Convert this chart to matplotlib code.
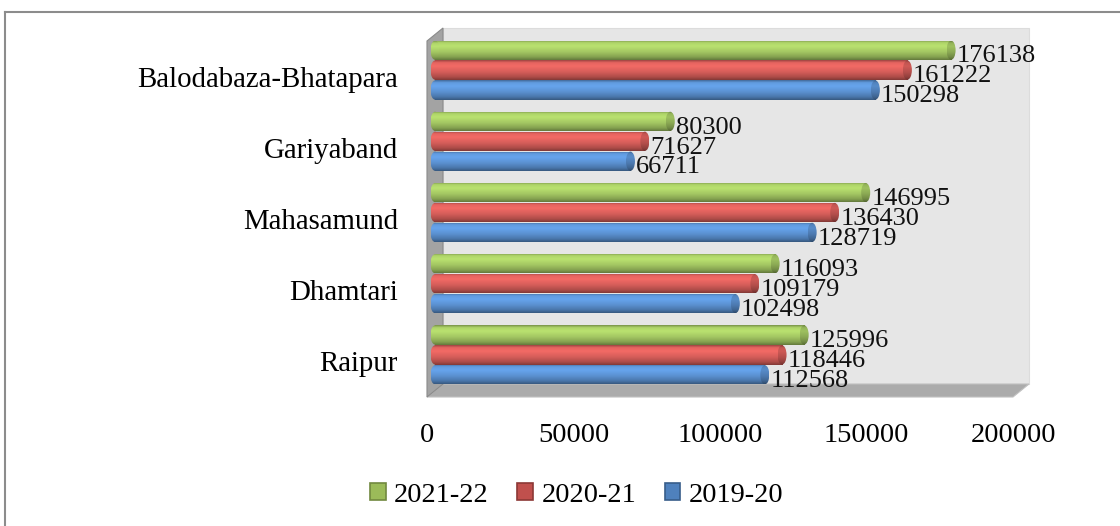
import numpy as np
import matplotlib
matplotlib.use("Agg")
import matplotlib.pyplot as plt
from matplotlib.patches import Rectangle, Ellipse, Polygon, Patch
from matplotlib.lines import Line2D
import matplotlib.transforms as mtransforms
import matplotlib.colors as mcolors

plt.rcParams['font.family'] = ['Liberation Serif', 'DejaVu Serif']

categories = ['Raipur', 'Dhamtari', 'Mahasamund', 'Gariyaband', 'Balodabaza-Bhatapara']
series_names = ['2021-22', '2020-21', '2019-20']
vals_2021_22 = [125996, 116093, 146995, 80300, 176138]
vals_2020_21 = [118446, 109179, 136430, 71627, 161222]
vals_2019_20 = [112568, 102498, 128719, 66711, 150298]
x_ticks = [0, 50000, 100000, 150000, 200000]

series_vals = [vals_2021_22, vals_2020_21, vals_2019_20]
base_colors = ['#a6ca64', '#d95f5b', '#5c93d4']
legend_face = ['#9bbb59', '#c0504d', '#4f81bd']
legend_edge = ['#71893f', '#8c3836', '#385d8a']
offsets = [0.28, 0.0, -0.28]
bar_h = 0.27

W, H = 1120, 526
fig = plt.figure(figsize=(W / 100, H / 100), dpi=100)
left_px, right_px, top_px, bot_px = 427, 1013, 41, 397
ax = fig.add_axes([left_px / W, 1 - bot_px / H, (right_px - left_px) / W, (bot_px - top_px) / H])
xmax = 200000
ax.set_xlim(0, xmax)
ax.set_ylim(-0.5, 4.5)
for s in ax.spines.values():
    s.set_visible(False)

# depth in pixels converted to data units
depth_px = (16, 13)
ddx = xmax * depth_px[0] / (right_px - left_px)
ddy = 5.0 * depth_px[1] / (bot_px - top_px)

# back wall
ax.add_patch(Rectangle((ddx, -0.5 + ddy), xmax, 5, facecolor='#e6e6e6', edgecolor='#dcdcdc',
                       lw=0.8, clip_on=False, zorder=0))
# floor
ax.add_patch(Polygon([(0, -0.5), (xmax, -0.5), (xmax + ddx, -0.5 + ddy), (ddx, -0.5 + ddy)],
                     closed=True, facecolor='#ababab', edgecolor='#c0c0c0', lw=0.8,
                     clip_on=False, zorder=1))
# left wall
ax.add_patch(Polygon([(0, -0.5), (0, 4.5), (ddx, 4.5 + ddy), (ddx, -0.5 + ddy)],
                     closed=True, facecolor='#a3a3a3', edgecolor='#8a8a8a', lw=0.8,
                     clip_on=False, zorder=1))

bar_trans = ax.transData + mtransforms.ScaledTranslation(
    depth_px[0] / 200, depth_px[1] / 200, fig.dpi_scale_trans)

prof_t = [0.0, 0.12, 0.3, 0.6, 0.85, 1.0]
prof_f = [0.72, 1.05, 1.12, 0.98, 0.8, 0.6]


def grad_img(color, scale=1.0, n=64):
    rgb = np.array(mcolors.to_rgb(color))
    t = np.linspace(0, 1, n)
    f = np.interp(t, prof_t, prof_f) * scale
    img = np.clip(rgb[None, :] * f[:, None], 0, 1)
    return img[:, None, :]


cap_w = xmax * 9 / (right_px - left_px)
for si, vals in enumerate(series_vals):
    for ci, v in enumerate(vals):
        yc = ci + offsets[si]
        y0, y1 = yc - bar_h / 2, yc + bar_h / 2
        # body
        body = Rectangle((0, y0), v, bar_h, transform=bar_trans, facecolor='none',
                         edgecolor='none', clip_on=False)
        ax.add_patch(body)
        im = ax.imshow(grad_img(base_colors[si]), extent=[0, v, y0, y1], origin='upper',
                       aspect='auto', transform=bar_trans, zorder=3, clip_on=True,
                       interpolation='bilinear')
        im.set_clip_path(body)
        # start cap (rounded left)
        sc = Ellipse((0, yc), cap_w, bar_h, transform=bar_trans, facecolor='none',
                     edgecolor='none', clip_on=False)
        ax.add_patch(sc)
        im2 = ax.imshow(grad_img(base_colors[si]), extent=[-cap_w / 2, cap_w / 2, y0, y1],
                        origin='upper', aspect='auto', transform=bar_trans, zorder=3,
                        interpolation='bilinear')
        im2.set_clip_path(sc)
        # end cap
        ec = Ellipse((v, yc), cap_w, bar_h, transform=bar_trans, facecolor='none',
                     edgecolor='none', clip_on=False)
        ax.add_patch(ec)
        im3 = ax.imshow(grad_img(base_colors[si], 0.85), extent=[v - cap_w / 2, v + cap_w / 2, y0, y1],
                        origin='upper', aspect='auto', transform=bar_trans, zorder=4,
                        interpolation='bilinear')
        im3.set_clip_path(ec)
        ax.annotate(f'{v}', xy=(v, yc), xycoords=bar_trans, xytext=(4, -4.5),
                    textcoords='offset points', ha='left', va='center', fontsize=19,
                    color='#111111', zorder=6, annotation_clip=False)

ax.set_xlim(0, xmax)
ax.set_ylim(-0.5, 4.5)
ax.set_xticks(x_ticks)
ax.set_xticklabels([str(t) for t in x_ticks], fontsize=20.5)
ax.set_yticks(range(len(categories)))
ax.set_yticklabels(categories, fontsize=20.8)
ax.tick_params(axis='both', length=0)
ax.tick_params(axis='x', pad=19)
ax.tick_params(axis='y', pad=21)
ax.patch.set_visible(False)

handles = [Patch(facecolor=legend_face[i], edgecolor=legend_edge[i], lw=1.2, label=series_names[i])
           for i in range(3)]
fig.legend(handles=handles, loc='center', bbox_to_anchor=(0.515, 1 - 495 / H), ncol=3,
           frameon=False, fontsize=20.5, handlelength=0.55, handleheight=0.55,
           handletextpad=0.3, columnspacing=1.0)

# outer chart border
fig.add_artist(Line2D([4.5 / W, 4.5 / W], [0, 1 - 12 / H], transform=fig.transFigure,
                      color='#8c8c8c', lw=1.5))
fig.add_artist(Line2D([4.5 / W, 1], [1 - 12 / H, 1 - 12 / H], transform=fig.transFigure,
                      color='#8c8c8c', lw=1.5))

fig.savefig('out.png', dpi=100)
